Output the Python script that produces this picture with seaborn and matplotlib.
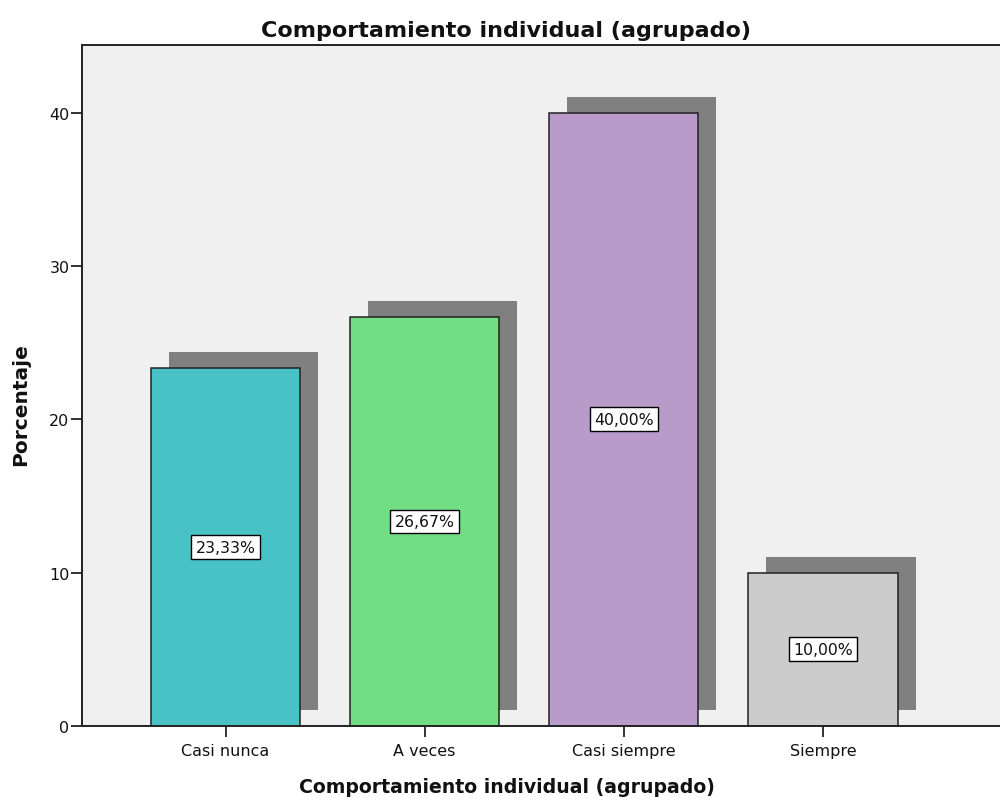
import matplotlib
matplotlib.use('Agg')
import matplotlib.pyplot as plt
import matplotlib.transforms as mtransforms
import pandas as pd
import seaborn as sns


CATEGORIES = ['Casi nunca', 'A veces', 'Casi siempre', 'Siempre']
PERCENTS = [23.33, 26.67, 40.00, 10.00]
LABELS = ['23,33%', '26,67%', '40,00%', '10,00%']
COLORS = ['#48C2C5', '#72DE84', '#B89BC9', '#CCCCCC']
Y_TICKS = [0, 10, 20, 30, 40]

TITLE = 'Comportamiento individual (agrupado)'
X_LABEL = 'Comportamiento individual (agrupado)'
Y_LABEL = 'Porcentaje'

sns.set_style('ticks', {'axes.facecolor': '#F0F0F0'})
plt.rcParams['font.family'] = ['DejaVu Sans']

df = pd.DataFrame({'cat': CATEGORIES, 'pct': PERCENTS})

fig = plt.figure(figsize=(10, 8.03), dpi=100)
ax = fig.add_axes([0.082, 0.0946, 0.93, 0.848])

# shadow bars, shifted right/up by a few pixels
sns.barplot(data=df, x='cat', y='pct', color='#808080', width=0.75,
            saturation=1, linewidth=0, ax=ax)
shadow_off = mtransforms.offset_copy(ax.transData, fig=fig, x=18, y=16,
                                     units='dots')
for p in ax.patches:
    p.set_transform(shadow_off)

sns.barplot(data=df, x='cat', y='pct', hue='cat', palette=COLORS,
            width=0.75, saturation=1, edgecolor='#222222', linewidth=1.1,
            legend=False, ax=ax)

for i, (v, lab) in enumerate(zip(PERCENTS, LABELS)):
    ax.text(i, v / 2, lab, ha='center', va='center', fontsize=11.3,
            color='#111111',
            bbox=dict(boxstyle='square,pad=0.28', fc='white', ec='black',
                      lw=1))

ax.set_xlim(-0.721, 3.95)
ax.set_ylim(0, 44.4)
ax.set_yticks(Y_TICKS)
ax.tick_params(axis='both', direction='out', length=8, width=1.3,
               labelsize=11.5, color='#222222', labelcolor='#111111')
ax.tick_params(axis='y', pad=1)
ax.tick_params(axis='x', pad=4.5)

for side in ('left', 'top', 'bottom'):
    ax.spines[side].set_visible(True)
    ax.spines[side].set_linewidth(1.4)
    ax.spines[side].set_color('#222222')
ax.spines['right'].set_visible(False)

ax.set_xlabel('')
ax.set_ylabel('')
fig.text(0.5065, 0.962, TITLE, ha='center', va='center', fontsize=16,
         fontweight='bold', color='#111111')
fig.text(0.5065, 0.019, X_LABEL, ha='center', va='center', fontsize=13.6,
         fontweight='bold', color='#111111')
fig.text(0.021, 0.496, Y_LABEL, ha='center', va='center', rotation=90,
         fontsize=14.5, fontweight='bold', color='#111111')

fig.savefig('out.png', dpi=100)
